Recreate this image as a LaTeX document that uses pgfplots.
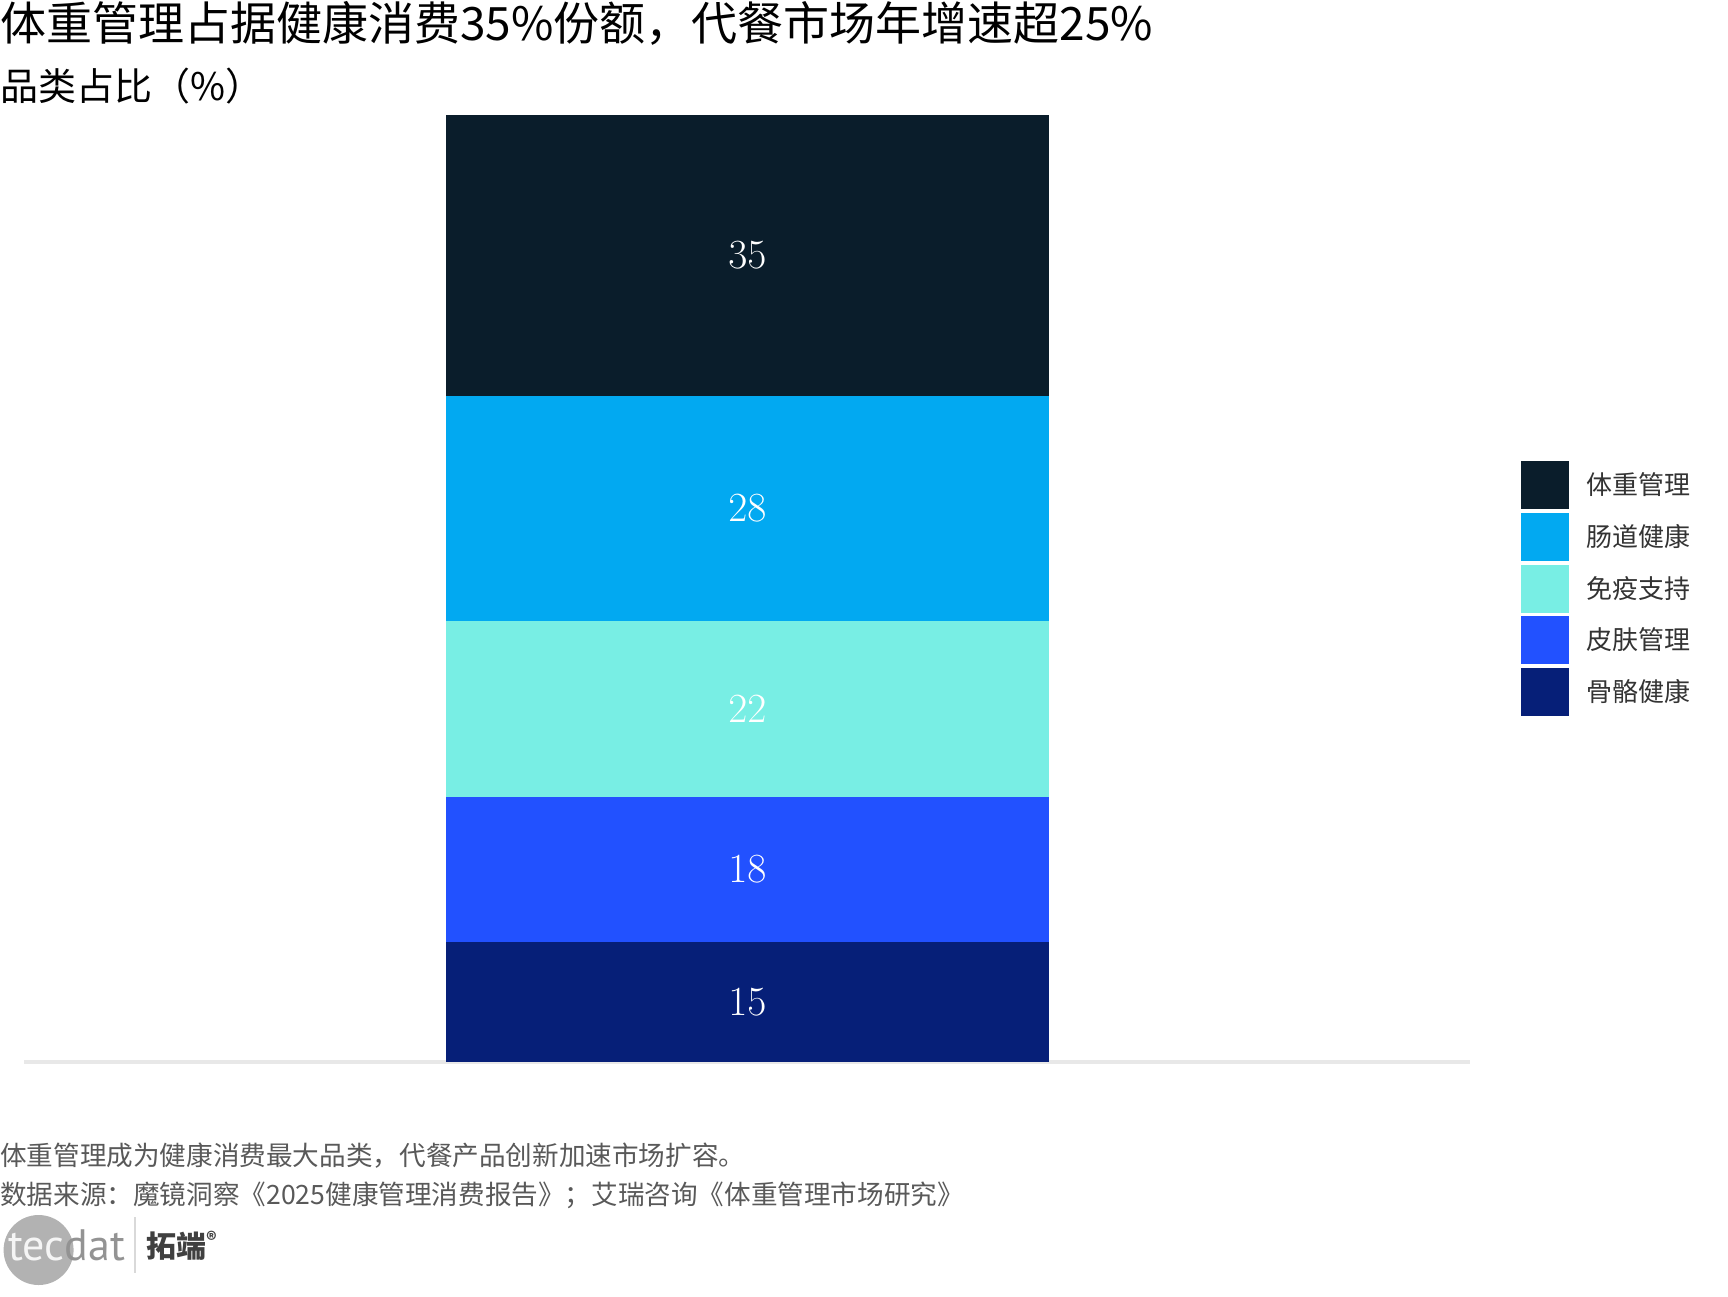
\documentclass[border=0pt]{standalone}
\usepackage{fontspec}
\setmainfont{Noto Sans CJK SC}
\newfontfamily\logofont{PT Sans}
\usepackage{pgfplots}
\pgfplotsset{compat=1.18}
\definecolor{cA}{HTML}{0A1D2B}
\definecolor{cB}{HTML}{02A9F1}
\definecolor{cC}{HTML}{78EEE4}
\definecolor{cD}{HTML}{2251FF}
\definecolor{cE}{HTML}{061F78}
\definecolor{baselinegray}{HTML}{E8E8E8}
\definecolor{foot}{HTML}{595959}
\definecolor{legtext}{HTML}{333333}
\begin{document}
\begin{tikzpicture}
\useasboundingbox (0pt,0pt) rectangle (864pt,-648pt);
% titles
\node[anchor=west,inner sep=0pt,font=\fontsize{23}{27}\selectfont] at (0pt,-11.5pt) {体重管理占据健康消费35\%份额，代餐市场年增速超25\%};
\node[anchor=west,inner sep=0pt,font=\fontsize{19}{23}\selectfont] at (0pt,-43pt) {品类占比（\%）};
% baseline
\draw[draw=baselinegray,line width=2pt] (12pt,-530.75pt) -- (735pt,-530.75pt);
\begin{axis}[
  at={(223pt,-531pt)}, anchor=south west,
  scale only axis, width=301.5pt, height=473.5pt,
  hide axis, clip=false,
  ybar stacked, bar width=301.5pt,
  xmin=-0.5, xmax=0.5, ymin=0, ymax=118,
  point meta=explicit,
  nodes near coords,
  every node near coord/.append style={white, font=\fontsize{21.7}{26}\selectfont, anchor=center},
  reverse legend,
  legend cell align=left,
  legend style={draw=none, fill=none, inner sep=0pt, outer sep=0pt,
    at={(axis description cs:1.7828,0.6346)}, anchor=north west,
    row sep=1.875pt,
    font=\fontsize{13}{15}\selectfont\color{legtext},
    nodes={inner sep=0pt}},
  legend image code/.code={\fill[#1,draw=none] (0pt,-12pt) rectangle (24pt,12pt);},
]
\addplot[fill=cE, draw=none] coordinates {(0,15) [15]};
\addplot[fill=cD, draw=none] coordinates {(0,18) [18]};
\addplot[fill=cC, draw=none] coordinates {(0,22) [22]};
\addplot[fill=cB, draw=none] coordinates {(0,28) [28]};
\addplot[fill=cA, draw=none] coordinates {(0,35) [35]};
\legend{\hspace*{8.8pt}骨骼健康,\hspace*{8.8pt}皮肤管理,\hspace*{8.8pt}免疫支持,\hspace*{8.8pt}肠道健康,\hspace*{8.8pt}体重管理}
\end{axis}
% footnotes
\node[anchor=west,inner sep=0pt,text=foot,font=\fontsize{13.3}{16}\selectfont] at (0pt,-578pt) {体重管理成为健康消费最大品类，代餐产品创新加速市场扩容。};
\node[anchor=west,inner sep=0pt,text=foot,font=\fontsize{13.3}{16}\selectfont] at (0pt,-597.5pt) {数据来源：魔镜洞察《2025健康管理消费报告》；艾瑞咨询《体重管理市场研究》};
% logo
\fill[gray!60] (19.3pt,-625pt) circle (17.5pt);
\node[anchor=west,inner sep=0pt,font=\logofont\fontsize{22}{25}\selectfont] at (4pt,-622.5pt) {\textcolor{white!92!gray}{tec}\textcolor{gray!85}{dat}};
\draw[gray!30,line width=0.6pt] (67.5pt,-608.5pt) -- (67.5pt,-636.5pt);
\node[anchor=west,inner sep=0pt,text=black!75,font=\fontsize{15}{17}\selectfont\bfseries] at (73pt,-623pt) {拓端{\fontsize{10}{12}\selectfont\raisebox{5pt}{\textregistered}}};
\end{tikzpicture}
\end{document}
